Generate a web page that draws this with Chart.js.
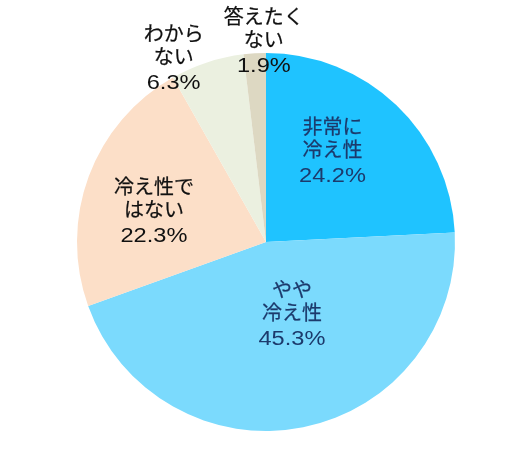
<!DOCTYPE html>
<html>
<head>
<meta charset="utf-8">
<script src="https://cdn.jsdelivr.net/npm/chart.js@4"></script>
<style>
html,body{margin:0;padding:0;background:#fff;}
canvas{display:block;}
</style>
</head>
<body>
<canvas id="c" width="509" height="472"></canvas>
<script>
const categories = ["非常に\n冷え性", "やや\n冷え性", "冷え性で\nはない", "わから\nない", "答えたく\nない"];
const values = [24.2, 45.3, 22.3, 6.3, 1.9];
const valueLabels = ["24.2%", "45.3%", "22.3%", "6.3%", "1.9%"];
const colors = ["#1fc3ff", "#7bdafd", "#fcdfc8", "#ebf0e0", "#ddd8c2"];
const textColors = ["#1c3a6c", "#1c3a6c", "#111111", "#111111", "#111111"];

// label anchor (centre of the last text line): angle (deg from 12 o'clock, clockwise), fraction of radius
const labelPlace = [
  {a: 35.7, r: 0.603},
  {a: 159.8, r: 0.397},
  {a: 286.4, r: 0.618},
  {a: 333.6, r: 1.099},
  {a: 359.4, r: 1.074}
];

const labelPlugin = {
  id: 'labels',
  afterDatasetsDraw(chart) {
    const ctx = chart.ctx;
    const meta = chart.getDatasetMeta(0);
    const lineGap = 23;
    const numGap = 33;
    ctx.save();
    ctx.textAlign = 'center';
    meta.data.forEach((arc, i) => {
      const p = arc.getProps(['x', 'y', 'outerRadius'], true);
      const ang = labelPlace[i].a * Math.PI / 180;
      const d = p.outerRadius * labelPlace[i].r;
      const cx = p.x + Math.sin(ang) * d;
      const cy = p.y - Math.cos(ang) * d;
      const lines = categories[i].split('\n');
      ctx.fillStyle = textColors[i];
      ctx.strokeStyle = textColors[i];
      ctx.lineWidth = 0.25;
      ctx.font = '20px "Noto Sans CJK JP", sans-serif';
      ctx.textBaseline = 'middle';
      lines.forEach((t, k) => {
        const y = cy - (lines.length - 1 - k) * lineGap;
        ctx.fillText(t, cx, y);
        ctx.strokeText(t, cx, y);
      });
      ctx.save();
      ctx.translate(cx, cy + numGap);
      ctx.scale(1.18, 1);
      ctx.font = '20px "Liberation Sans", Arial, sans-serif';
      ctx.textBaseline = 'alphabetic';
      ctx.fillText(valueLabels[i], 0, 0);
      ctx.restore();
    });
    ctx.restore();
  }
};

new Chart(document.getElementById('c'), {
  type: 'pie',
  data: {
    labels: categories.map(s => s.replace('\n', '')),
    datasets: [{
      data: values,
      backgroundColor: colors,
      borderWidth: 0
    }]
  },
  options: {
    responsive: false,
    animation: false,
    layout: {padding: {top: 53, bottom: 41, left: 77, right: 54}},
    plugins: {legend: {display: false}, tooltip: {enabled: false}}
  },
  plugins: [labelPlugin]
});
</script>
</body>
</html>
